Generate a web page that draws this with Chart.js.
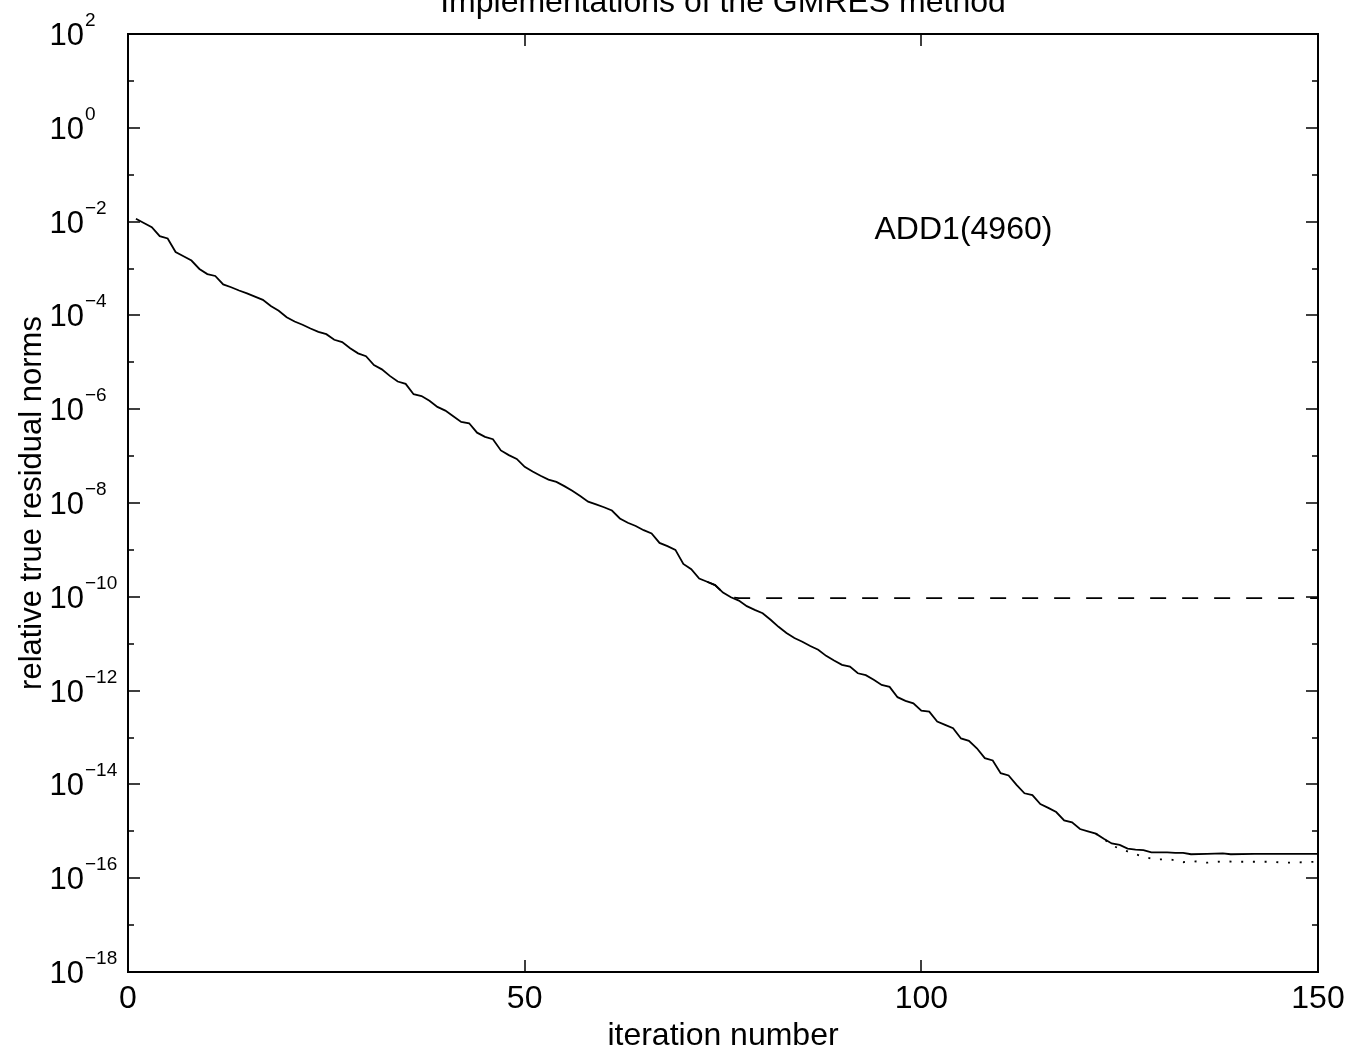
<!DOCTYPE html>
<html>
<head>
<meta charset="utf-8">
<script src="https://cdn.jsdelivr.net/npm/chart.js@4/dist/chart.umd.min.js"></script>
<style>
  body { margin: 0; background: #fff; }
  canvas { display: block; }
</style>
</head>
<body>
<canvas id="chart" width="1353" height="1053"></canvas>
<script>
// solid curve: relative true residual norm per iteration
const solidIter = [1, 2, 3, 4, 5, 6, 7, 8, 9, 10, 11, 12, 13, 14, 15, 16, 17, 18, 19, 20,
    21, 22, 23, 24, 25, 26, 27, 28, 29, 30, 31, 32, 33, 34, 35, 36, 37, 38, 39, 40,
    41, 42, 43, 44, 45, 46, 47, 48, 49, 50, 51, 52, 53, 54, 55, 56, 57, 58, 59, 60,
    61, 62, 63, 64, 65, 66, 67, 68, 69, 70, 71, 72, 73, 74, 75, 76, 77, 78, 79, 80,
    81, 82, 83, 84, 85, 86, 87, 88, 89, 90, 91, 92, 93, 94, 95, 96, 97, 98, 99, 100,
    101, 102, 103, 104, 105, 106, 107, 108, 109, 110, 111, 112, 113, 114, 115, 116, 117, 118, 119, 120,
    121, 122, 123, 124, 125, 126, 127, 128, 129, 130, 131, 132, 133, 134, 136, 138, 139, 142, 146, 150];
const solidRes = [1.15e-2, 9.33e-3, 7.59e-3, 4.90e-3, 4.37e-3, 2.24e-3, 1.82e-3, 1.48e-3, 9.77e-4, 7.59e-4,
    6.92e-4, 4.57e-4, 3.98e-4, 3.39e-4, 2.95e-4, 2.51e-4, 2.14e-4, 1.58e-4, 1.26e-4, 9.12e-5,
    7.41e-5, 6.31e-5, 5.25e-5, 4.47e-5, 3.98e-5, 3.02e-5, 2.69e-5, 2.00e-5, 1.55e-5, 1.35e-5,
    8.71e-6, 7.08e-6, 5.13e-6, 3.89e-6, 3.47e-6, 2.09e-6, 1.91e-6, 1.51e-6, 1.12e-6, 9.33e-7,
    7.08e-7, 5.37e-7, 5.01e-7, 3.16e-7, 2.57e-7, 2.29e-7, 1.32e-7, 1.05e-7, 8.71e-8, 5.89e-8,
    4.68e-8, 3.80e-8, 3.16e-8, 2.82e-8, 2.29e-8, 1.82e-8, 1.41e-8, 1.07e-8, 9.33e-9, 8.13e-9,
    6.92e-9, 4.68e-9, 3.80e-9, 3.24e-9, 2.63e-9, 2.24e-9, 1.41e-9, 1.20e-9, 1.00e-9, 5.01e-10,
    3.89e-10, 2.45e-10, 2.09e-10, 1.78e-10, 1.23e-10, 9.77e-11, 8.32e-11, 6.31e-11, 5.25e-11, 4.47e-11,
    3.24e-11, 2.29e-11, 1.70e-11, 1.32e-11, 1.10e-11, 8.91e-12, 7.41e-12, 5.50e-12, 4.37e-12, 3.55e-12,
    3.24e-12, 2.34e-12, 2.14e-12, 1.70e-12, 1.32e-12, 1.20e-12, 7.24e-13, 6.03e-13, 5.37e-13, 3.72e-13,
    3.55e-13, 2.19e-13, 1.86e-13, 1.58e-13, 9.55e-14, 8.51e-14, 5.89e-14, 3.63e-14, 3.24e-14, 1.74e-14,
    1.55e-14, 9.77e-15, 6.46e-15, 5.89e-15, 3.80e-15, 3.16e-15, 2.57e-15, 1.70e-15, 1.55e-15, 1.12e-15,
    1.00e-15, 8.91e-16, 6.92e-16, 5.50e-16, 5.13e-16, 4.27e-16, 4.07e-16, 3.98e-16, 3.55e-16, 3.55e-16,
    3.55e-16, 3.47e-16, 3.47e-16, 3.24e-16, 3.31e-16, 3.39e-16, 3.24e-16, 3.31e-16, 3.31e-16, 3.31e-16];

// dashed curve: stagnates near 1e-10
const dashedIter = [73, 74, 75, 76, 77, 80, 90, 100, 110, 120, 130, 140, 150];
const dashedRes = [2.09e-10, 1.78e-10, 1.23e-10, 9.77e-11, 9.33e-11, 9.33e-11, 9.33e-11,
    9.33e-11, 9.33e-11, 9.33e-11, 9.33e-11, 9.33e-11, 9.33e-11];

// dotted curve: splits off at the end
const dottedIter = [122, 123, 124, 125, 126, 127, 128, 129, 130, 131, 132, 133, 134, 136, 138, 140, 144, 146, 150];
const dottedRes = [8.91e-16, 6.92e-16, 5.01e-16, 4.27e-16, 3.72e-16, 3.24e-16, 2.88e-16, 2.63e-16, 2.51e-16,
    2.57e-16, 2.40e-16, 2.19e-16, 2.34e-16, 2.14e-16, 2.29e-16, 2.24e-16, 2.24e-16, 2.14e-16, 2.24e-16];

// y axis decades, labels on the even ones
const decades = [2, 1, 0, -1, -2, -3, -4, -5, -6, -7, -8, -9, -10, -11, -12, -13, -14, -15, -16, -17, -18];
const labelledDecades = [2, 0, -2, -4, -6, -8, -10, -12, -14, -16, -18];

const FONT = '"Liberation Sans", Arial, Helvetica, sans-serif';

function points(xs, ys) {
    return xs.map((x, i) => ({ x: x, y: ys[i] }));
}

// frame, inward ticks, 10^n labels and the text note
const framePlugin = {
    id: 'frame',
    afterDatasetsDraw(chart) {
        const { ctx, chartArea: a, scales: { x, y } } = chart;
        ctx.save();
        ctx.strokeStyle = '#000';
        ctx.fillStyle = '#000';

        ctx.lineWidth = 1.5;
        ctx.beginPath();
        x.ticks.forEach(t => {
            const px = Math.round(x.getPixelForValue(t.value));
            ctx.moveTo(px, a.bottom); ctx.lineTo(px, a.bottom - 12);
            ctx.moveTo(px, a.top); ctx.lineTo(px, a.top + 12);
        });
        decades.forEach(e => {
            const py = Math.round(y.getPixelForValue(Math.pow(10, e)));
            const len = labelledDecades.includes(e) ? 12 : 6;
            ctx.moveTo(a.left, py); ctx.lineTo(a.left + len, py);
            ctx.moveTo(a.right, py); ctx.lineTo(a.right - len, py);
        });
        ctx.stroke();

        ctx.lineWidth = 2;
        ctx.strokeRect(a.left, a.top, a.right - a.left, a.bottom - a.top);

        ctx.textBaseline = 'alphabetic';
        labelledDecades.forEach(e => {
            const py = y.getPixelForValue(Math.pow(10, e));
            ctx.font = '31px ' + FONT;
            ctx.textAlign = 'right';
            ctx.fillText('10', 84, py + 11);
            ctx.font = '19px ' + FONT;
            ctx.textAlign = 'left';
            ctx.fillText(String(e).replace('-', '\u2212'), 85, py - 8);
        });

        ctx.font = '32px ' + FONT;
        ctx.textAlign = 'left';
        ctx.fillText('ADD1(4960)', x.getPixelForValue(94.1), y.getPixelForValue(4.3e-3));
        ctx.restore();
    }
};

Chart.defaults.font.family = FONT;
Chart.defaults.color = '#000';

new Chart(document.getElementById('chart'), {
    type: 'line',
    data: {
        datasets: [{
            data: points(solidIter, solidRes),
            borderColor: '#000',
            borderWidth: 1.8
        }, {
            data: points(dashedIter, dashedRes),
            borderColor: '#000',
            borderWidth: 1.8,
            borderDash: [16, 16]
        }, {
            data: points(dottedIter, dottedRes),
            borderColor: '#000',
            borderWidth: 1.8,
            borderDash: [2, 9.7]
        }]
    },
    options: {
        responsive: false,
        animation: false,
        devicePixelRatio: 1,
        elements: { point: { radius: 0 }, line: { tension: 0 } },
        layout: { padding: { left: 0, right: 35, top: 0, bottom: 0 } },
        plugins: {
            legend: { display: false },
            tooltip: { enabled: false },
            title: {
                display: true,
                fullSize: false,
                text: 'Implementations of the GMRES method',
                color: '#000',
                font: { size: 32, weight: 'normal' },
                padding: { top: -16.3, bottom: 11.9 }
            }
        },
        scales: {
            x: {
                type: 'linear',
                min: 0,
                max: 150,
                ticks: { stepSize: 50, font: { size: 32 }, color: '#000', padding: 7.7, maxRotation: 0 },
                grid: { display: false, drawTicks: false },
                border: { display: false },
                title: {
                    display: true,
                    text: 'iteration number',
                    color: '#000',
                    font: { size: 32, lineHeight: 1 },
                    padding: { top: 0, bottom: 1 }
                },
                afterFit: s => { s.height = 81; }
            },
            y: {
                type: 'logarithmic',
                min: 1e-18,
                max: 1e2,
                ticks: { display: false },
                grid: { display: false, drawTicks: false },
                border: { display: false },
                title: {
                    display: true,
                    text: 'relative true residual norms',
                    color: '#000',
                    font: { size: 31 },
                    padding: { top: 13.7, bottom: 0 }
                },
                afterFit: s => { s.width = 128; }
            }
        }
    },
    plugins: [framePlugin]
});
</script>
</body>
</html>
